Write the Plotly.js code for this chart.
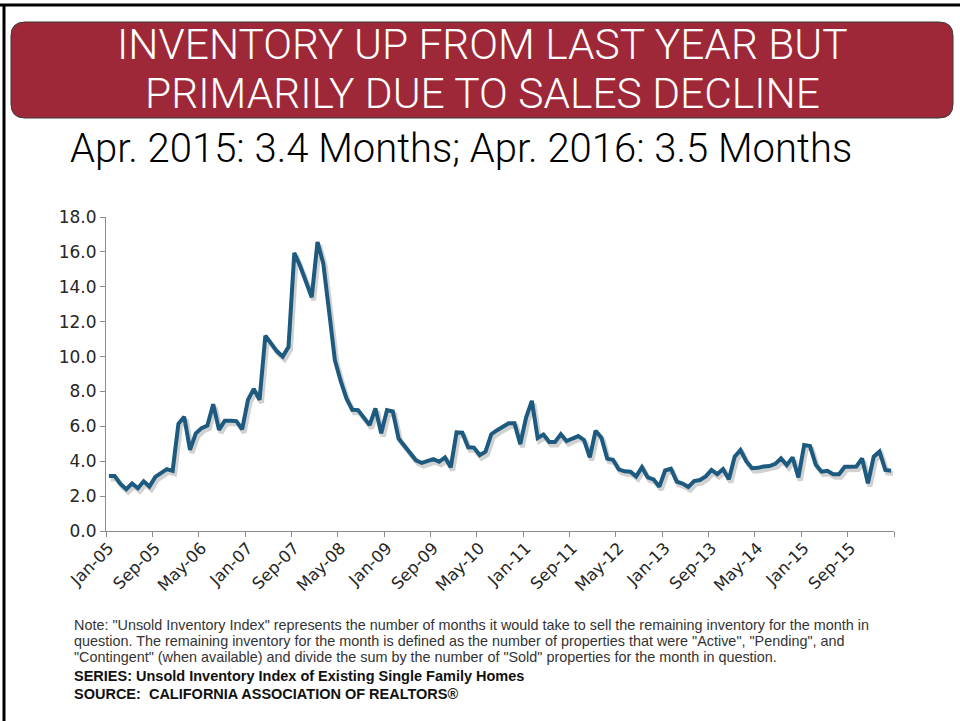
<!DOCTYPE html>
<html><head><meta charset="utf-8">
<script src="https://cdn.plot.ly/plotly-3.0.1.min.js"></script>
<style>html,body{margin:0;padding:0;background:#fff;} #chart{width:960px;height:721px;}</style>
</head><body><div id="chart"></div>
<script>
// ---- data ----
const monthNames = ["Jan","Feb","Mar","Apr","May","Jun","Jul","Aug","Sep","Oct","Nov","Dec"];
const startYear = 2005;
const unsoldIndex = [
  3.15, 3.15, 2.70, 2.40, 2.73, 2.45, 2.85, 2.55, 3.10, 3.30, 3.55, 3.45,   // 2005
  6.15, 6.55, 4.65, 5.60, 5.90, 6.05, 7.27, 5.80, 6.32, 6.32, 6.30, 5.82,   // 2006
  7.52, 8.15, 7.52, 11.20, 10.70, 10.30, 10.00, 10.56, 15.94, 15.20, 14.30, 13.40, // 2007
  16.57, 15.33, 12.60, 9.80, 8.60, 7.60, 6.95, 6.93, 6.50, 6.07, 7.03, 5.60, // 2008
  6.93, 6.85, 5.30, 4.90, 4.50, 4.05, 3.90, 4.00, 4.12, 3.97, 4.22, 3.65,   // 2009
  5.65, 5.63, 4.80, 4.78, 4.35, 4.55, 5.55, 5.78, 5.95, 6.17, 6.17, 4.98,   // 2010
  6.50, 7.46, 5.33, 5.53, 5.10, 5.10, 5.55, 5.15, 5.30, 5.44, 5.22, 4.22,   // 2011
  5.75, 5.35, 4.15, 4.08, 3.53, 3.42, 3.40, 3.13, 3.66, 3.07, 2.96, 2.54,   // 2012
  3.47, 3.57, 2.83, 2.72, 2.52, 2.86, 2.92, 3.13, 3.50, 3.26, 3.55, 2.96,   // 2013
  4.26, 4.64, 4.00, 3.60, 3.62, 3.70, 3.72, 3.85, 4.16, 3.78, 4.22, 3.07,   // 2014
  4.93, 4.87, 3.80, 3.40, 3.45, 3.25, 3.25, 3.68, 3.68, 3.70, 4.16, 2.73,   // 2015
  4.26, 4.55, 3.50, 3.46                                                    // 2016
];
const categories = unsoldIndex.map((_, i) => {
  const y = startYear + Math.floor(i / 12);
  return monthNames[i % 12] + "-" + String(y % 100).padStart(2, "0");
});
const labelEvery = 8;
const yTickValues = [0, 2, 4, 6, 8, 10, 12, 14, 16, 18];

const titleLines = ["INVENTORY UP FROM LAST YEAR BUT", "PRIMARILY DUE TO SALES DECLINE"];
const subtitle = "Apr. 2015: 3.4 Months; Apr. 2016: 3.5 Months";
const noteLines = [
  'Note: "Unsold Inventory Index" represents the number of months it would take to sell the remaining inventory for the month in',
  'question. The remaining inventory for the month is defined as the number of properties that were "Active", "Pending", and',
  '"Contingent" (when available) and divide the sum by the number of "Sold" properties for the month in question.'
];
const seriesLine = "SERIES: Unsold Inventory Index of Existing Single Family Homes";
const sourceLine = "SOURCE:  CALIFORNIA ASSOCIATION OF REALTORS®";

// ---- layout geometry ----
const W = 960, H = 721;
const PL = 106, PR = 894, PT = 217, PB = 531;
const fx = px => (px - PL) / (PR - PL);
const fy = py => (PB - py) / (PB - PT);
const P = (px, py) => fx(px) + "," + fy(py);

const idx = categories.map((_, i) => i);
const tickIdx = idx.filter(i => i % labelEvery === 0);
const tickText = tickIdx.map(i => categories[i]);
const boundaries = [];
for (let b = -0.5; b <= categories.length - 0.5 + 1e-9; b += labelEvery) boundaries.push(b);

const n = categories.length;
const xRange = [-0.5, n - 0.5];
const yRange = [0, 18];
const pxPerX = (PR - PL) / n, pxPerY = (PB - PT) / 18;
const shX = 2 / pxPerX, shY = 3 / pxPerY;

// invisible carrier so the visible base axes get drawn
const carrier = {
  x: idx, y: unsoldIndex, xaxis: "x", yaxis: "y", type: "scatter", mode: "lines",
  line: {color: "rgba(0,0,0,0)", width: 0}, hoverinfo: "skip", showlegend: false
};
const shadow = {
  x: idx, y: unsoldIndex, xaxis: "x2", yaxis: "y2", type: "scatter", mode: "lines",
  line: {color: "rgba(0,0,0,0.18)", width: 5}, hoverinfo: "skip", showlegend: false
};
const main = {
  x: idx, y: unsoldIndex, xaxis: "x3", yaxis: "y3", type: "scatter", mode: "lines",
  line: {color: "#1c5a80", width: 4}, showlegend: false
};

// rounded title box
const bx0 = 11, bx1 = 953, by0 = 22, by1 = 118, r = 14;
const boxPath = `M ${P(bx0 + r, by0)} L ${P(bx1 - r, by0)} Q ${P(bx1, by0)} ${P(bx1, by0 + r)} ` +
  `L ${P(bx1, by1 - r)} Q ${P(bx1, by1)} ${P(bx1 - r, by1)} L ${P(bx0 + r, by1)} ` +
  `Q ${P(bx0, by1)} ${P(bx0, by1 - r)} L ${P(bx0, by0 + r)} Q ${P(bx0, by0)} ${P(bx0 + r, by0)} Z`;

const thin = "Roboto, Liberation Sans, sans-serif";
const body = "Liberation Sans, Arial, sans-serif";
const ann = (text, px, py, font, opts = {}) => Object.assign({
  text, x: fx(px), y: fy(py), xref: "paper", yref: "paper", showarrow: false,
  xanchor: "center", yanchor: "middle", font
}, opts);

const annotations = [
  ann(titleLines[0], 482, 45, {family: thin, size: 42.5, weight: 300, color: "#fff"}),
  ann(titleLines[1], 482, 94, {family: thin, size: 42.5, weight: 300, color: "#fff"}),
  ann(subtitle, 461, 148, {family: thin, size: 40, weight: 300, color: "#000"}),
  ...noteLines.map((t, k) => ann(t, 72, 625 + 16 * k, {family: body, size: 14.4, color: "#333"}, {xanchor: "left"})),
  ann("<b>" + seriesLine + "</b>", 72, 676, {family: body, size: 14.5, color: "#111"}, {xanchor: "left"}),
  ann("<b>" + sourceLine + "</b>", 72, 694, {family: body, size: 14.5, color: "#111"}, {xanchor: "left"})
];

const shapes = [
  {type: "path", path: boxPath, xref: "paper", yref: "paper", fillcolor: "#9e2837", line: {color: "#3b3b3b", width: 1}},
  {type: "line", xref: "paper", yref: "paper", x0: fx(0), x1: fx(W), y0: fy(5), y1: fy(5), line: {color: "#000", width: 3}},
  {type: "line", xref: "paper", yref: "paper", x0: fx(4), x1: fx(4), y0: fy(5), y1: fy(H), line: {color: "#000", width: 3}}
];

const axisGray = "#8c8c8c";
const tickFont = {family: "DejaVu Sans, sans-serif", size: 17, color: "#262626"};
const layout = {
  width: W, height: H,
  margin: {l: PL, r: W - PR, t: PT, b: H - PB, pad: 0},
  paper_bgcolor: "#fff", plot_bgcolor: "#fff",
  showlegend: false,
  xaxis: {
    type: "linear", range: xRange, fixedrange: true,
    tickmode: "array", tickvals: tickIdx, ticktext: tickText, ticks: "",
    tickangle: -45, tickfont: Object.assign({}, tickFont, {size: 16.5}),
    showline: true, linecolor: axisGray, linewidth: 1, showgrid: false, zeroline: false,
    minor: {tickmode: "array", tickvals: boundaries, ticks: "outside", ticklen: 5, tickcolor: axisGray, tickwidth: 1, showgrid: false}
  },
  yaxis: {
    range: yRange, fixedrange: true,
    tickmode: "array", tickvals: yTickValues, ticktext: yTickValues.map(v => v.toFixed(1)),
    ticks: "outside", ticklen: 5, tickcolor: axisGray, tickfont: tickFont,
    showline: true, linecolor: axisGray, linewidth: 1, showgrid: false, zeroline: false
  },
  xaxis2: {overlaying: "x", range: [xRange[0] - shX, xRange[1] - shX], visible: false, fixedrange: true},
  yaxis2: {overlaying: "y", range: [yRange[0] + shY, yRange[1] + shY], visible: false, fixedrange: true},
  xaxis3: {overlaying: "x", range: xRange, visible: false, fixedrange: true},
  yaxis3: {overlaying: "y", range: yRange, visible: false, fixedrange: true},
  shapes, annotations
};

Plotly.newPlot("chart", [carrier, shadow, main], layout, {displayModeBar: false, staticPlot: true});
</script>
</body></html>
